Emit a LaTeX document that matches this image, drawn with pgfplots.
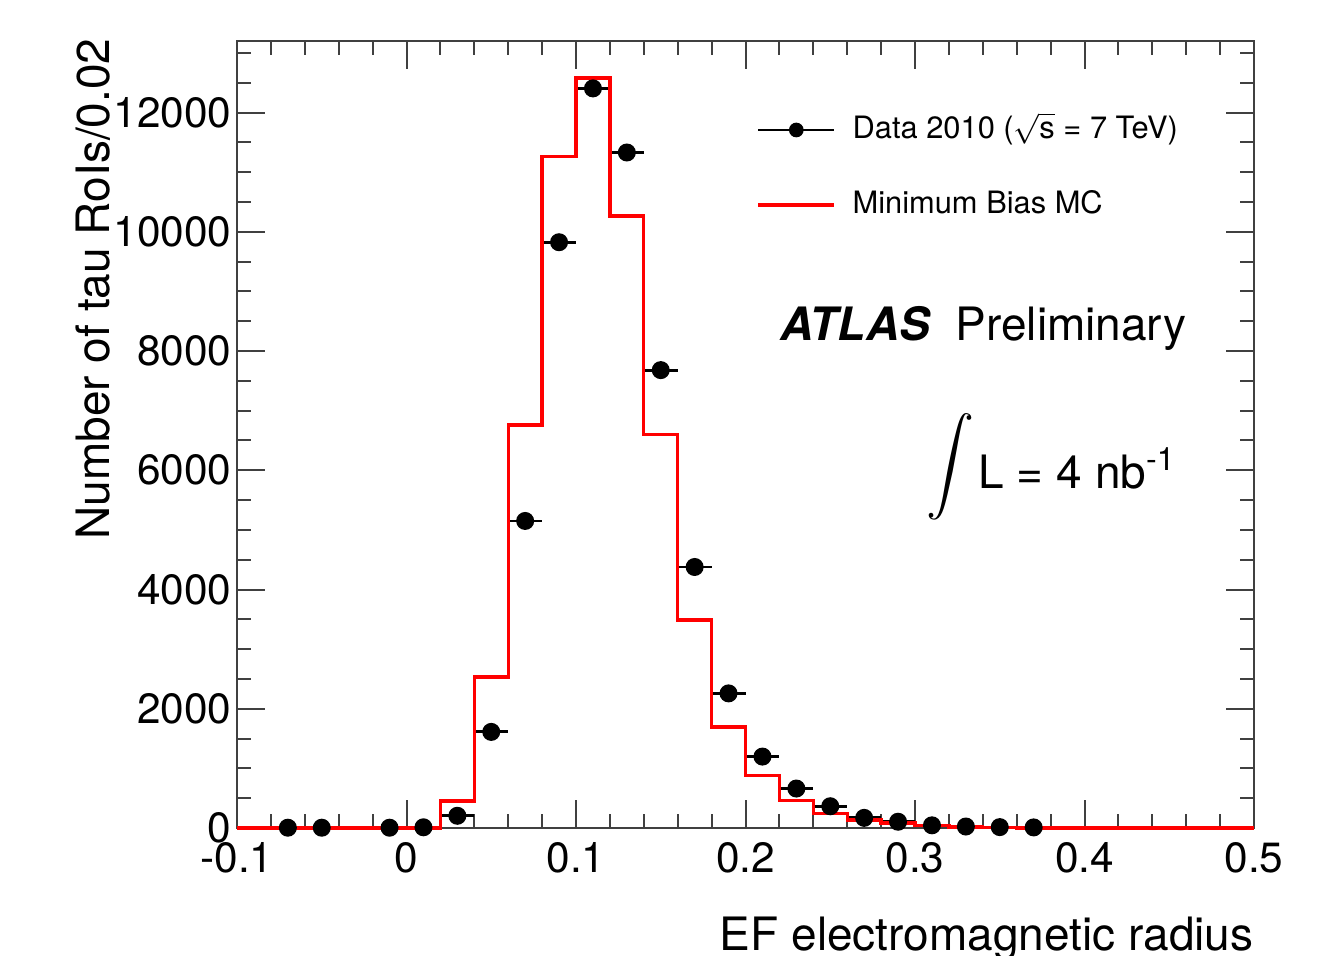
\documentclass[border=0pt]{standalone}
\usepackage{fontspec}
\setmainfont{TeX Gyre Heros}
\usepackage{amsmath}
\usepackage{pgfplots}
\usepackage{pgfplotstable}
\pgfplotsset{compat=1.18}

% Data 2010 (bin centres, content, half bin width)
\pgfplotstableread{
x y ex
-0.07 5 0.01
-0.05 5 0.01
-0.01 5 0.01
0.01 12 0.01
0.03 205 0.01
0.05 1612 0.01
0.07 5150 0.01
0.09 9825 0.01
0.11 12405 0.01
0.13 11330 0.01
0.15 7680 0.01
0.17 4378 0.01
0.19 2258 0.01
0.21 1198 0.01
0.23 662 0.01
0.25 365 0.01
0.27 170 0.01
0.29 105 0.01
0.31 45 0.01
0.33 25 0.01
0.35 15 0.01
0.37 10 0.01
}\datatab

% Minimum Bias MC (bin lower edges, content)
\pgfplotstableread{
x y
-0.10 0
-0.08 0
-0.06 0
-0.04 0
-0.02 0
0.00 0
0.02 455
0.04 2530
0.06 6760
0.08 11260
0.10 12580
0.12 10265
0.14 6600
0.16 3490
0.18 1692
0.20 886
0.22 458
0.24 248
0.26 134
0.28 85
0.30 40
0.32 18
0.34 8
0.36 0
0.38 0
0.40 0
0.42 0
0.44 0
0.46 0
0.48 0
0.50 0
}\mctab

\begin{document}
\begin{tikzpicture}
\begin{axis}[
  name=main,
  scale only axis, width=305.1pt, height=236.1pt,
  xmin=-0.1, xmax=0.5, ymin=0, ymax=13200,
  xtick={-0.1,0,0.1,0.2,0.3,0.4,0.5},
  xticklabels={-0.1,0,0.1,0.2,0.3,0.4,0.5},
  minor xtick={-0.08,-0.06,-0.04,-0.02,0.02,0.04,0.06,0.08,0.12,0.14,0.16,0.18,0.22,0.24,0.26,0.28,0.32,0.34,0.36,0.38,0.42,0.44,0.46,0.48},
  ytick={0,2000,4000,6000,8000,10000,12000},
  yticklabels={0,2000,4000,6000,8000,10000,12000},
  minor ytick={500,1000,1500,2500,3000,3500,4500,5000,5500,6500,7000,7500,8500,9000,9500,10500,11000,11500,12500,13000},
  scaled y ticks=false,
  major tick length=8.4pt, minor tick length=4.2pt,
  tick style={line width=0.6pt, black!75},
  axis line style={line width=0.6pt, black!75},
  tick label style={font=\fontsize{12.7}{14}\selectfont},
  xticklabel style={anchor=north, inner sep=0pt, yshift=-4.2pt},
  yticklabel style={anchor=east, inner sep=0pt, xshift=-1.5pt},
  clip=false,
  xlabel={EF electromagnetic radius},
  ylabel={Number of tau RoIs/0.02},
  every axis x label/.style={at={(rel axis cs:1,0)}, anchor=base east, inner sep=0pt, yshift=-36.6pt, font=\fontsize{13.8}{16}\selectfont},
  every axis y label/.style={at={(rel axis cs:0,1)}, xshift=-38.1pt, yshift=0.9pt, rotate=90, anchor=base east, inner sep=0pt, font=\fontsize{13.8}{16}\selectfont},
  legend cell align=left,
  legend style={draw=none, fill=none, at={(rel axis cs:0.5103,0.8393)}, anchor=west,
    font=\fontsize{9.25}{11}\selectfont, row sep=13.5pt, column sep=5.0pt, inner sep=0pt,
    nodes={inner sep=0pt, text height=7pt, text depth=2pt}},
]
\addplot[black, only marks, mark=*, mark size=2.5pt,
  legend image code/.code={\draw[black, line width=0.7pt] (0pt,0pt) -- (22.8pt,0pt); \fill[black] (11.4pt,0pt) circle (2pt);},
  error bars/.cd, x dir=both, x explicit, error mark=none,
  error bar style={line width=0.85pt, black}]
  table[x=x, y=y, x error=ex]{\datatab};
\addlegendentry{Data 2010 (\(\sqrt{\text{s}}\) = 7 TeV)}
\addplot[red, line width=1pt, const plot mark left,
  legend image code/.code={\draw[red, line width=1pt] (0pt,0pt) -- (22.8pt,0pt);}]
  table[x=x, y=y]{\mctab};
\addlegendentry{Minimum Bias MC}

\node[anchor=base west, font=\fontsize{13.8}{16}\selectfont, inner sep=0pt] at (rel axis cs:0.534,0.620) {\textbf{\textit{ATLAS}}\hspace{7.5pt}Preliminary};
\node[font=\fontsize{15}{18}\selectfont, inner sep=0pt] at (rel axis cs:0.702,0.4587) {$\displaystyle\int$};
\node[anchor=base west, font=\fontsize{13.8}{16}\selectfont, inner sep=0pt] at (rel axis cs:0.7286,0.432) {L = 4 nb\textsuperscript{-1}};
\end{axis}
\pgfresetboundingbox
\path[use as bounding box] ([xshift=-71.1pt,yshift=-38.1pt]main.south west) rectangle ([xshift=24.6pt,yshift=12.3pt]main.north east);
\end{tikzpicture}
\end{document}
